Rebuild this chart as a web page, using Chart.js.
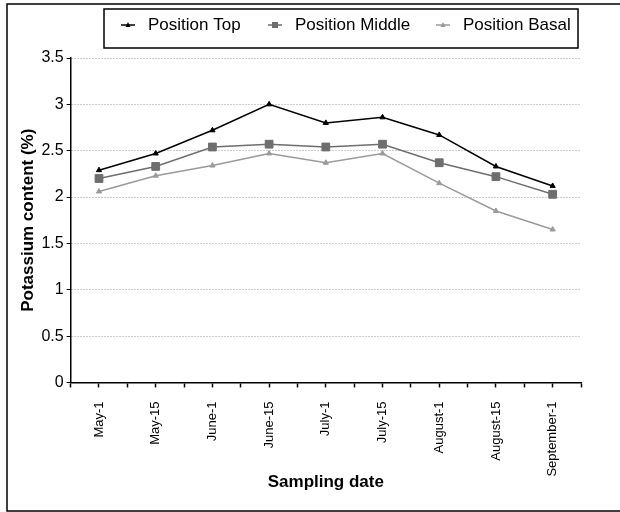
<!DOCTYPE html>
<html>
<head>
<meta charset="utf-8">
<script src="https://cdn.jsdelivr.net/npm/chart.js@4.4.0/dist/chart.umd.min.js"></script>
<style>
  html, body { margin: 0; padding: 0; background: #fff; }
  #wrap { width: 620px; height: 512px; }
</style>
</head>
<body>
<div id="wrap"><canvas id="chart"></canvas></div>
<script>
// sampling dates (x categories)
var dates = ['May-1', 'May-15', 'June-1', 'June-15', 'July-1', 'July-15', 'August-1', 'August-15', 'September-1'];
var seriesNames = ['Position Top', 'Position Middle', 'Position Basal'];

// potassium content (%)
var topValues    = [2.29, 2.47, 2.72, 3.00, 2.80, 2.86, 2.67, 2.33, 2.12];
var middleValues = [2.20, 2.33, 2.54, 2.57, 2.54, 2.57, 2.37, 2.22, 2.03];
var basalValues  = [2.06, 2.23, 2.34, 2.47, 2.37, 2.47, 2.15, 1.85, 1.65];

var yMin = 0, yMax = 3.5, yStep = 0.5;

var FONT = "'Liberation Sans', Arial, sans-serif";
var colors = ['#000000', '#6e6e6e', '#9a9a9a'];
var styles = ['triangle', 'rect', 'triangle'];
var radii = [3, 5.5, 3];

function toPoints(vals) {
    return vals.map(function (v, i) { return { x: i, y: v }; });
}

var allValues = [topValues, middleValues, basalValues];
var datasets = allValues.map(function (vals, k) {
    return {
        label: seriesNames[k],
        data: toPoints(vals),
        borderColor: colors[k],
        backgroundColor: colors[k],
        borderWidth: 1.5,
        pointStyle: styles[k],
        pointRadius: radii[k],
        pointBorderWidth: 1,
        tension: 0
    };
});

// outer frame around the figure
var framePlugin = {
    id: 'frame',
    afterDraw: function (chart) {
        var ctx = chart.ctx;
        ctx.save();
        ctx.strokeStyle = '#000';
        ctx.lineWidth = 1.5;
        ctx.beginPath();
        ctx.moveTo(630, 4);
        ctx.lineTo(7, 4);
        ctx.lineTo(7, 511);
        ctx.lineTo(630, 511);
        ctx.stroke();
        ctx.restore();
    }
};

// boxed legend at the top, line sample with marker
var legendPlugin = {
    id: 'boxLegend',
    afterDraw: function (chart) {
        var ctx = chart.ctx;
        ctx.save();
        ctx.strokeStyle = '#000';
        ctx.lineWidth = 1.5;
        ctx.strokeRect(104, 9, 474, 39);
        var xs = [121, 268, 436];
        var y = 25;
        ctx.font = '17px ' + FONT;
        ctx.textBaseline = 'middle';
        chart.data.datasets.forEach(function (ds, k) {
            var x0 = xs[k];
            ctx.strokeStyle = ds.borderColor;
            ctx.fillStyle = ds.borderColor;
            ctx.lineWidth = 1.5;
            ctx.beginPath();
            ctx.moveTo(x0, y);
            ctx.lineTo(x0 + 14, y);
            ctx.stroke();
            var cx = x0 + 7;
            if (ds.pointStyle === 'rect') {
                ctx.fillRect(cx - 3, y - 3, 6, 6);
            } else {
                ctx.beginPath();
                ctx.moveTo(cx, y - 3);
                ctx.lineTo(cx + 2.5, y + 2);
                ctx.lineTo(cx - 2.5, y + 2);
                ctx.closePath();
                ctx.fill();
            }
            ctx.fillStyle = '#000';
            ctx.fillText(ds.label, x0 + 27, y);
        });
        ctx.restore();
    }
};

var ctx = document.getElementById('chart').getContext('2d');
var chart = new Chart(ctx, {
    type: 'line',
    data: { datasets: datasets },
    options: {
        responsive: true,
        maintainAspectRatio: false,
        animation: false,
        layout: { padding: { top: 58, right: 39, left: 12, bottom: 19 } },
        plugins: {
            legend: { display: false },
            tooltip: { enabled: false }
        },
        scales: {
            x: {
                type: 'linear',
                min: -0.5,
                max: dates.length - 0.5,
                border: { color: '#000', width: 1.5 },
                grid: {
                    drawOnChartArea: false,
                    drawTicks: true,
                    tickLength: 5,
                    tickColor: '#000',
                    tickWidth: 1.5
                },
                ticks: {
                    stepSize: 0.5,
                    autoSkip: false,
                    maxRotation: 90,
                    minRotation: 90,
                    color: '#000',
                    padding: 14,
                    font: { family: FONT, size: 13 },
                    callback: function (v) {
                        return Number.isInteger(v) ? dates[v] : '';
                    }
                },
                title: {
                    display: true,
                    text: 'Sampling date',
                    color: '#000',
                    font: { family: FONT, size: 17, weight: 'bold' },
                    padding: { top: -18, bottom: 0 }
                }
            },
            y: {
                min: yMin,
                max: yMax,
                border: { color: '#000', width: 1.5, dash: [1, 2] },
                grid: {
                    color: '#9a9a9a',
                    lineWidth: 1,
                    tickLength: 4,
                    tickColor: '#000',
                    tickBorderDash: []
                },
                ticks: {
                    stepSize: yStep,
                    color: '#000',
                    padding: 3,
                    font: { family: FONT, size: 16 },
                    callback: function (v) { return String(v); }
                },
                title: {
                    display: true,
                    text: 'Potassium content (%)',
                    color: '#000',
                    font: { family: FONT, size: 17, weight: 'bold' },
                    padding: { top: 6, bottom: 0 }
                }
            }
        }
    },
    plugins: [framePlugin, legendPlugin]
});
</script>
</body>
</html>
